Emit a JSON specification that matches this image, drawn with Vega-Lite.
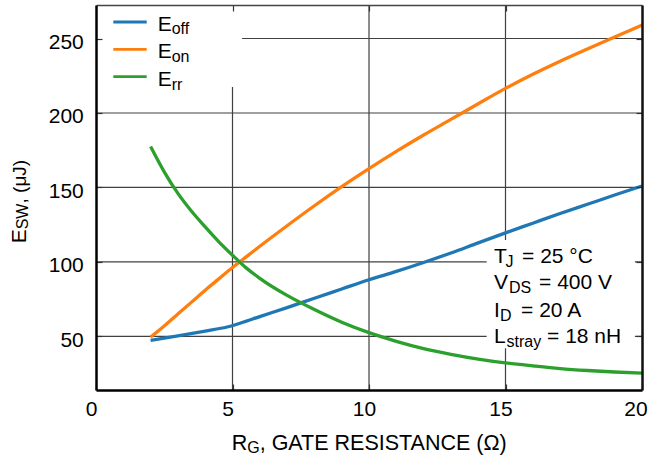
{
  "$schema": "https://vega.github.io/schema/vega-lite/v6.json",
  "width": 546,
  "height": 385,
  "autosize": {"type": "none"},
  "padding": {"left": 96, "top": 5, "right": 6, "bottom": 67},
  "background": "white",
  "config": {
    "view": {"stroke": null},
    "text": {"font": "Liberation Sans", "color": "#000"},
    "axis": {"labelFont": "Liberation Sans", "labelColor": "#000"}
  },
  "data": {"values": [{}]},
  "datasets": {
    "curves": [
      {"series": "Eoff", "rg": 2, "esw": 47.3},
      {"series": "Eoff", "rg": 3, "esw": 50.4},
      {"series": "Eoff", "rg": 4, "esw": 53.6},
      {"series": "Eoff", "rg": 4.8, "esw": 56.3},
      {"series": "Eoff", "rg": 5.3, "esw": 59},
      {"series": "Eoff", "rg": 6, "esw": 63.3},
      {"series": "Eoff", "rg": 7, "esw": 69.3},
      {"series": "Eoff", "rg": 8, "esw": 75.6},
      {"series": "Eoff", "rg": 9, "esw": 81.8},
      {"series": "Eoff", "rg": 10, "esw": 88},
      {"series": "Eoff", "rg": 11, "esw": 93.6},
      {"series": "Eoff", "rg": 12, "esw": 99.6},
      {"series": "Eoff", "rg": 13, "esw": 106},
      {"series": "Eoff", "rg": 14, "esw": 112.8},
      {"series": "Eoff", "rg": 15, "esw": 119.5},
      {"series": "Eoff", "rg": 16, "esw": 126},
      {"series": "Eoff", "rg": 17, "esw": 132.5},
      {"series": "Eoff", "rg": 18, "esw": 138.7},
      {"series": "Eoff", "rg": 19, "esw": 144.9},
      {"series": "Eoff", "rg": 20, "esw": 151},
      {"series": "Eon", "rg": 2, "esw": 49.5},
      {"series": "Eon", "rg": 2.5, "esw": 57},
      {"series": "Eon", "rg": 3, "esw": 65},
      {"series": "Eon", "rg": 3.5, "esw": 73},
      {"series": "Eon", "rg": 4, "esw": 81},
      {"series": "Eon", "rg": 4.5, "esw": 88.6},
      {"series": "Eon", "rg": 5, "esw": 96.2},
      {"series": "Eon", "rg": 5.5, "esw": 103.4},
      {"series": "Eon", "rg": 6, "esw": 110.5},
      {"series": "Eon", "rg": 7, "esw": 124.3},
      {"series": "Eon", "rg": 8, "esw": 137.7},
      {"series": "Eon", "rg": 9, "esw": 150.5},
      {"series": "Eon", "rg": 10, "esw": 162.6},
      {"series": "Eon", "rg": 11, "esw": 174.2},
      {"series": "Eon", "rg": 12, "esw": 185.2},
      {"series": "Eon", "rg": 13, "esw": 195.7},
      {"series": "Eon", "rg": 14, "esw": 206.2},
      {"series": "Eon", "rg": 15, "esw": 216.5},
      {"series": "Eon", "rg": 16, "esw": 226},
      {"series": "Eon", "rg": 17, "esw": 234.8},
      {"series": "Eon", "rg": 18, "esw": 243},
      {"series": "Eon", "rg": 19, "esw": 251},
      {"series": "Eon", "rg": 20, "esw": 259},
      {"series": "Err", "rg": 2, "esw": 177.5},
      {"series": "Err", "rg": 2.5, "esw": 160.5},
      {"series": "Err", "rg": 3, "esw": 146},
      {"series": "Err", "rg": 3.5, "esw": 134},
      {"series": "Err", "rg": 4, "esw": 123.5},
      {"series": "Err", "rg": 4.5, "esw": 113.5},
      {"series": "Err", "rg": 5, "esw": 104.5},
      {"series": "Err", "rg": 5.5, "esw": 96},
      {"series": "Err", "rg": 6, "esw": 89},
      {"series": "Err", "rg": 7, "esw": 77.5},
      {"series": "Err", "rg": 8, "esw": 68},
      {"series": "Err", "rg": 9, "esw": 59.5},
      {"series": "Err", "rg": 10, "esw": 52.5},
      {"series": "Err", "rg": 11, "esw": 46.7},
      {"series": "Err", "rg": 12, "esw": 41.8},
      {"series": "Err", "rg": 13, "esw": 38},
      {"series": "Err", "rg": 14, "esw": 34.8},
      {"series": "Err", "rg": 15, "esw": 32.2},
      {"series": "Err", "rg": 16, "esw": 30.2},
      {"series": "Err", "rg": 17, "esw": 28.4},
      {"series": "Err", "rg": 18, "esw": 27.1},
      {"series": "Err", "rg": 19, "esw": 26.1},
      {"series": "Err", "rg": 20, "esw": 25.3}
    ]
  },
  "resolve": {"axis": {"x": "independent", "y": "independent"}},
  "layer": [
    {
      "data": {"values": [{"v": 5}, {"v": 10}, {"v": 15}]},
      "mark": {"type": "rule", "color": "#404040", "strokeWidth": 1.2},
      "encoding": {"x": {"field": "v", "type": "quantitative", "axis": null}}
    },
    {
      "data": {"values": [{"v": 50}, {"v": 100}, {"v": 150}, {"v": 200}, {"v": 250}]},
      "mark": {"type": "rule", "color": "#404040", "strokeWidth": 1.2},
      "encoding": {"y": {"field": "v", "type": "quantitative", "axis": null}}
    },
    {
      "mark": {"type": "rect", "color": "white"},
      "encoding": {
        "x": {"datum": 0, "type": "quantitative", "scale": {"domain": [0, 20], "nice": false, "zero": false},
          "axis": {"orient": "top", "values": [5, 10, 15], "labels": false, "title": null, "grid": false,
            "domainColor": "#444", "domainWidth": 1.6, "tickColor": "#333", "tickWidth": 1.2, "tickSize": -6, "zindex": 1}},
        "x2": {"datum": 5.35},
        "y": {"datum": 217.4, "type": "quantitative", "scale": {"domain": [14, 272.5], "nice": false, "zero": false},
          "axis": {"orient": "right", "values": [50, 100, 150, 200, 250], "labels": false, "title": null, "grid": false,
            "domainColor": "#111", "domainWidth": 2.5, "tickColor": "#333", "tickWidth": 1.2, "tickSize": -6, "zindex": 1}},
        "y2": {"datum": 272.5}
      }
    },
    {
      "mark": {"type": "rect", "color": "white"},
      "encoding": {
        "x": {"datum": 14.31, "type": "quantitative", "axis": null},
        "x2": {"datum": 19.74},
        "y": {"datum": 42, "type": "quantitative", "axis": null},
        "y2": {"datum": 114.7}
      }
    },
    {
      "data": {"name": "curves"},
      "mark": {"type": "line", "strokeWidth": 3.3, "interpolate": "monotone"},
      "encoding": {
        "x": {"field": "rg", "type": "quantitative", "scale": {"domain": [0, 20], "nice": false, "zero": false},
          "axis": {"orient": "bottom", "values": [0, 5, 10, 15, 20], "title": null, "grid": false, "labelFlush": false,
            "domainColor": "#000", "domainWidth": 2.5, "tickColor": "#333", "tickWidth": 1.2, "tickSize": -6,
            "labelPadding": 14.4, "labelFontSize": 21, "labelAngle": 0, "zindex": 1,
            "labelOffset": {"condition": {"test": "datum.value == 20", "value": -6.5}, "value": -5}}},
        "y": {"field": "esw", "type": "quantitative", "scale": {"domain": [14, 272.5], "nice": false, "zero": false},
          "axis": {"orient": "left", "values": [50, 100, 150, 200, 250], "title": null, "grid": false,
            "domainColor": "#000", "domainWidth": 2.5, "tickColor": "#333", "tickWidth": 1.2, "tickSize": -6,
            "labelPadding": 18.7, "labelOffset": 4, "labelFontSize": 21, "zindex": 1}},
        "color": {"field": "series", "type": "nominal", "legend": null,
          "scale": {"domain": ["Eoff", "Eon", "Err"], "range": ["#1f77b4", "#ff7f0e", "#2ca02c"]}}
      }
    },
    {
      "mark": {"type": "rule", "color": "#1f77b4", "strokeWidth": 2.8},
      "encoding": {"x": {"datum": 0.634, "type": "quantitative", "axis": null}, "x2": {"datum": 1.857}, "y": {"datum": 261.1, "type": "quantitative", "axis": null}}
    },
    {
      "mark": {"type": "rule", "color": "#ff7f0e", "strokeWidth": 2.8},
      "encoding": {"x": {"datum": 0.634, "type": "quantitative", "axis": null}, "x2": {"datum": 1.857}, "y": {"datum": 242.7, "type": "quantitative", "axis": null}}
    },
    {
      "mark": {"type": "rule", "color": "#2ca02c", "strokeWidth": 2.8},
      "encoding": {"x": {"datum": 0.634, "type": "quantitative", "axis": null}, "x2": {"datum": 1.857}, "y": {"datum": 224.4, "type": "quantitative", "axis": null}}
    },
    {
      "mark": {"type": "text", "text": "E", "align": "left", "baseline": "alphabetic", "fontSize": 21},
      "encoding": {"x": {"datum": 2.26, "type": "quantitative", "axis": null}, "y": {"datum": 255.2, "type": "quantitative", "axis": null}}
    },
    {
      "mark": {"type": "text", "text": "off", "align": "left", "baseline": "alphabetic", "fontSize": 16, "dx": 14, "dy": 3.5},
      "encoding": {"x": {"datum": 2.26, "type": "quantitative", "axis": null}, "y": {"datum": 255.2, "type": "quantitative", "axis": null}}
    },
    {
      "mark": {"type": "text", "text": "E", "align": "left", "baseline": "alphabetic", "fontSize": 21},
      "encoding": {"x": {"datum": 2.26, "type": "quantitative", "axis": null}, "y": {"datum": 236.9, "type": "quantitative", "axis": null}}
    },
    {
      "mark": {"type": "text", "text": "on", "align": "left", "baseline": "alphabetic", "fontSize": 16, "dx": 14, "dy": 3.5},
      "encoding": {"x": {"datum": 2.26, "type": "quantitative", "axis": null}, "y": {"datum": 236.9, "type": "quantitative", "axis": null}}
    },
    {
      "mark": {"type": "text", "text": "E", "align": "left", "baseline": "alphabetic", "fontSize": 21},
      "encoding": {"x": {"datum": 2.26, "type": "quantitative", "axis": null}, "y": {"datum": 218.1, "type": "quantitative", "axis": null}}
    },
    {
      "mark": {"type": "text", "text": "rr", "align": "left", "baseline": "alphabetic", "fontSize": 16, "dx": 14, "dy": 3.5},
      "encoding": {"x": {"datum": 2.26, "type": "quantitative", "axis": null}, "y": {"datum": 218.1, "type": "quantitative", "axis": null}}
    },
    {
      "mark": {"type": "text", "text": "T", "align": "left", "baseline": "alphabetic", "fontSize": 21},
      "encoding": {"x": {"datum": 14.58, "type": "quantitative", "axis": null}, "y": {"datum": 99.07, "type": "quantitative", "axis": null}}
    },
    {
      "mark": {"type": "text", "text": "J", "align": "left", "baseline": "alphabetic", "fontSize": 16, "dx": 11.5, "dy": 3.5},
      "encoding": {"x": {"datum": 14.58, "type": "quantitative", "axis": null}, "y": {"datum": 99.07, "type": "quantitative", "axis": null}}
    },
    {
      "mark": {"type": "text", "text": "= 25 °C", "align": "left", "baseline": "alphabetic", "fontSize": 21, "dx": 28},
      "encoding": {"x": {"datum": 14.58, "type": "quantitative", "axis": null}, "y": {"datum": 99.07, "type": "quantitative", "axis": null}}
    },
    {
      "mark": {"type": "text", "text": "V", "align": "left", "baseline": "alphabetic", "fontSize": 21},
      "encoding": {"x": {"datum": 14.58, "type": "quantitative", "axis": null}, "y": {"datum": 81.6, "type": "quantitative", "axis": null}}
    },
    {
      "mark": {"type": "text", "text": "DS", "align": "left", "baseline": "alphabetic", "fontSize": 16, "dx": 15, "dy": 3.5},
      "encoding": {"x": {"datum": 14.58, "type": "quantitative", "axis": null}, "y": {"datum": 81.6, "type": "quantitative", "axis": null}}
    },
    {
      "mark": {"type": "text", "text": "= 400 V", "align": "left", "baseline": "alphabetic", "fontSize": 21, "dx": 45},
      "encoding": {"x": {"datum": 14.58, "type": "quantitative", "axis": null}, "y": {"datum": 81.6, "type": "quantitative", "axis": null}}
    },
    {
      "mark": {"type": "text", "text": "I", "align": "left", "baseline": "alphabetic", "fontSize": 21},
      "encoding": {"x": {"datum": 14.58, "type": "quantitative", "axis": null}, "y": {"datum": 62.8, "type": "quantitative", "axis": null}}
    },
    {
      "mark": {"type": "text", "text": "D", "align": "left", "baseline": "alphabetic", "fontSize": 16, "dx": 6, "dy": 3.5},
      "encoding": {"x": {"datum": 14.58, "type": "quantitative", "axis": null}, "y": {"datum": 62.8, "type": "quantitative", "axis": null}}
    },
    {
      "mark": {"type": "text", "text": "= 20 A", "align": "left", "baseline": "alphabetic", "fontSize": 21, "dx": 27},
      "encoding": {"x": {"datum": 14.58, "type": "quantitative", "axis": null}, "y": {"datum": 62.8, "type": "quantitative", "axis": null}}
    },
    {
      "mark": {"type": "text", "text": "L", "align": "left", "baseline": "alphabetic", "fontSize": 21},
      "encoding": {"x": {"datum": 14.58, "type": "quantitative", "axis": null}, "y": {"datum": 45.4, "type": "quantitative", "axis": null}}
    },
    {
      "mark": {"type": "text", "text": "stray", "align": "left", "baseline": "alphabetic", "fontSize": 16, "dx": 12.5, "dy": 3.5},
      "encoding": {"x": {"datum": 14.58, "type": "quantitative", "axis": null}, "y": {"datum": 45.4, "type": "quantitative", "axis": null}}
    },
    {
      "mark": {"type": "text", "text": "= 18 nH", "align": "left", "baseline": "alphabetic", "fontSize": 21, "dx": 53},
      "encoding": {"x": {"datum": 14.58, "type": "quantitative", "axis": null}, "y": {"datum": 45.4, "type": "quantitative", "axis": null}}
    },
    {
      "mark": {"type": "text", "text": "R", "align": "left", "baseline": "alphabetic", "fontSize": 21.5},
      "encoding": {"x": {"datum": 4.97, "type": "quantitative", "axis": null}, "y": {"datum": -26.3, "type": "quantitative", "axis": null}}
    },
    {
      "mark": {"type": "text", "text": "G", "align": "left", "baseline": "alphabetic", "fontSize": 16, "dx": 15.5, "dy": 3},
      "encoding": {"x": {"datum": 4.97, "type": "quantitative", "axis": null}, "y": {"datum": -26.3, "type": "quantitative", "axis": null}}
    },
    {
      "mark": {"type": "text", "text": ", GATE RESISTANCE (Ω)", "align": "left", "baseline": "alphabetic", "fontSize": 21.5, "dx": 28},
      "encoding": {"x": {"datum": 4.97, "type": "quantitative", "axis": null}, "y": {"datum": -26.3, "type": "quantitative", "axis": null}}
    },
    {
      "mark": {"type": "text", "text": "E", "align": "left", "baseline": "alphabetic", "fontSize": 21, "angle": 270},
      "encoding": {"x": {"datum": -2.564, "type": "quantitative", "axis": null}, "y": {"datum": 112.5, "type": "quantitative", "axis": null}}
    },
    {
      "mark": {"type": "text", "text": "SW", "align": "left", "baseline": "alphabetic", "fontSize": 16, "angle": 270, "dx": 14, "dy": 2},
      "encoding": {"x": {"datum": -2.564, "type": "quantitative", "axis": null}, "y": {"datum": 112.5, "type": "quantitative", "axis": null}}
    },
    {
      "mark": {"type": "text", "text": ", (μJ)", "align": "left", "baseline": "alphabetic", "fontSize": 19, "angle": 270, "dx": 39.8},
      "encoding": {"x": {"datum": -2.564, "type": "quantitative", "axis": null}, "y": {"datum": 112.5, "type": "quantitative", "axis": null}}
    }
  ]
}
